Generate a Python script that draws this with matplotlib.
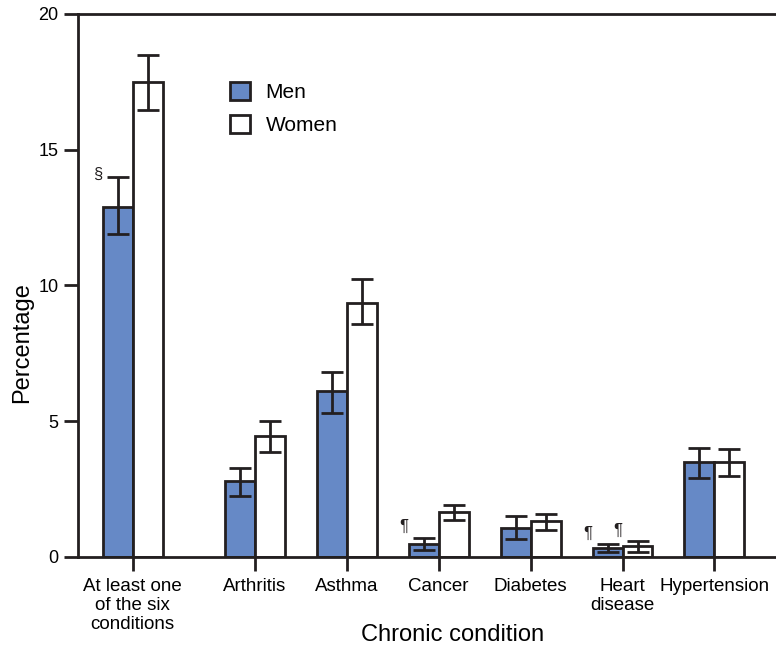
import matplotlib.pyplot as plt
import numpy as np

# Data
conditions = ['At least one\nof the six\nconditions', 'Arthritis', 'Asthma', 'Cancer',
              'Diabetes', 'Heart\ndisease', 'Hypertension']
men = [12.9, 2.8, 6.1, 0.46, 1.08, 0.33, 3.5]
men_lo = [11.9, 2.25, 5.32, 0.25, 0.65, 0.17, 2.92]
men_hi = [14.0, 3.27, 6.83, 0.71, 1.5, 0.46, 4.0]
women = [17.5, 4.46, 9.37, 1.65, 1.32, 0.42, 3.5]
women_lo = [16.45, 3.87, 8.58, 1.35, 0.98, 0.17, 3.0]
women_hi = [18.5, 5.0, 10.24, 1.92, 1.6, 0.59, 3.96]
# footnote marks: (series, index, symbol)
notes = [('men', 0, '§'), ('men', 3, '¶'), ('men', 5, '¶'), ('women', 5, '¶')]

x = np.array([0, 1.33, 2.33, 3.33, 4.33, 5.33, 6.33])
w = 0.326
blue = '#6689c6'
dark = '#231f20'
narrow = ['Liberation Sans Narrow', 'Liberation Sans', 'DejaVu Sans']
sans = ['Liberation Sans', 'DejaVu Sans']

fig = plt.figure(figsize=(7.76, 6.5), dpi=100)
ax = fig.add_axes([0.1005, 0.1431, 0.8995, 0.8354])

men_err = [np.array(men) - np.array(men_lo), np.array(men_hi) - np.array(men)]
women_err = [np.array(women) - np.array(women_lo), np.array(women_hi) - np.array(women)]
ekw = dict(elinewidth=2, capthick=2, capsize=8, ecolor=dark)
ax.bar(x - w / 2, men, w, color=blue, edgecolor=dark, linewidth=2,
       yerr=men_err, error_kw=ekw, label='Men', zorder=2)
ax.bar(x + w / 2, women, w, color='white', edgecolor=dark, linewidth=2,
       yerr=women_err, error_kw=ekw, label='Women', zorder=2)

for series, i, sym in notes:
    if series == 'men':
        xp, yp = x[i] - w / 2, men_hi[i]
    else:
        xp, yp = x[i] + w / 2, women_hi[i]
    dy = 0.1 if sym == '§' else 0.4
    ax.text(xp - 0.17, yp + dy, sym, ha='right', va='center', fontsize=12,
            color=dark, family=sans)

ax.set_ylim(0, 20)
ax.set_xlim(-0.595, 7.0)
ax.set_yticks([0, 5, 10, 15, 20])
ax.set_xticks(x)
ax.set_xticklabels(conditions, family=narrow, fontsize=13.5, linespacing=1.15)
ax.tick_params(axis='y', labelsize=13, length=10, width=2, color=dark, pad=4)
ax.tick_params(axis='x', length=10, width=2, color=dark, pad=5)
for lab in ax.get_yticklabels():
    lab.set_family(sans)

ax.spines['right'].set_visible(False)
for s in ['left', 'top', 'bottom']:
    ax.spines[s].set_linewidth(2)
    ax.spines[s].set_color(dark)

ax.set_ylabel('Percentage', fontsize=17, family=sans)
ax.yaxis.set_label_coords(-0.0645, 0.394)
ax.set_xlabel('Chronic condition', fontsize=17, family=narrow)
ax.xaxis.set_label_coords(0.537, -0.123)

ax.legend(loc='upper left', bbox_to_anchor=(0.191, 0.91), frameon=False,
          prop={'family': sans, 'size': 15},
          handlelength=0.95, handleheight=0.95, handletextpad=0.75, labelspacing=0.65)

plt.savefig('out.png', dpi=100)
